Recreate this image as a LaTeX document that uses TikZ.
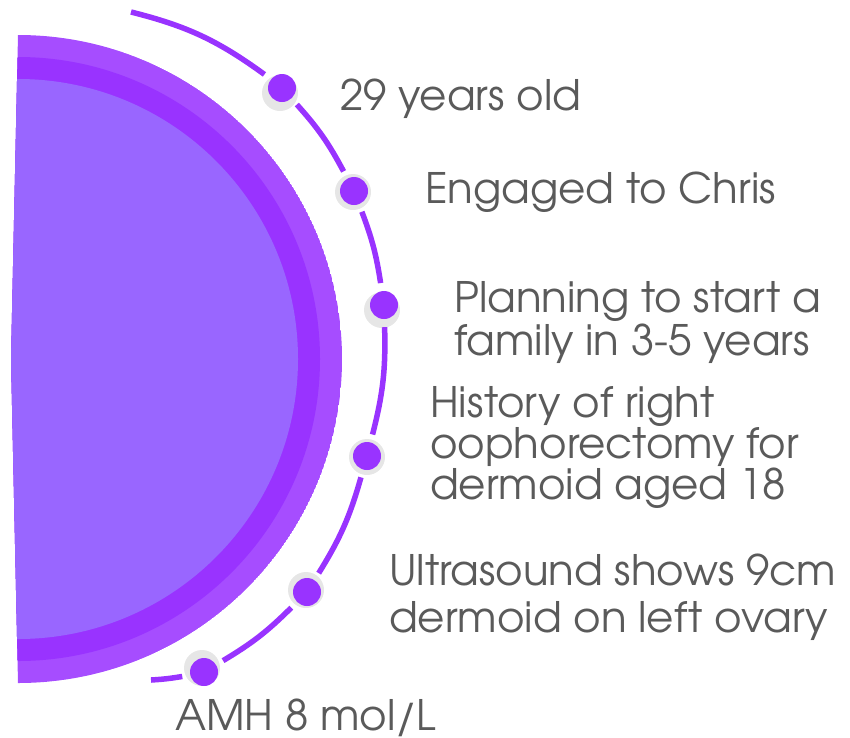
\documentclass[tikz,border=0pt]{standalone}
\usepackage{fontspec}
\setmainfont{texgyreadventor}[Extension=.otf, UprightFont=*-regular, BoldFont=*-bold]
\usepackage{tikz}
\usetikzlibrary{positioning}
\usepackage{xcolor}
\definecolor{ring}{HTML}{A64DFF}
\definecolor{band}{HTML}{9933FF}
\definecolor{core}{HTML}{9966FF}
\definecolor{shade}{HTML}{E6E6E6}
\definecolor{note}{HTML}{5A5A5A}

\begin{document}
\begin{tikzpicture}[x=1pt, y=-1pt,
  halo/.style={circle, minimum size=44pt, inner sep=0pt},
  shadow/.style={circle, fill=shade, minimum size=36pt, inner sep=0pt},
  dot/.style={circle, fill=band, minimum size=28pt, inner sep=0pt},
  track/.style={draw=band, line width=5.5pt},
  fact/.style={anchor=base west, align=left, inner sep=0pt, text=note, font=\fontsize{42}{43}\selectfont}
]
  \useasboundingbox (0,0) rectangle (850,737);

  % Half disc
  \begin{scope}
    \clip (18,35) arc[start angle=-90, end angle=90, radius=324] -- (11,359) -- cycle;
    \fill[ring] (18,359) circle[radius=324];
    \fill[band] (18,359) circle[radius=302];
    \fill[core] (18,359) circle[radius=280];
  \end{scope}

  % Dots
  \node[halo] (h1) at (282,88) {};
  \node[shadow] (s1) at (280,93) {};
  \node[dot] (d1) at (282,88) {};
  \node[halo] (h2) at (354,191) {};
  \node[shadow] (s2) at (353,192) {};
  \node[dot] (d2) at (354,191) {};
  \node[halo] (h3) at (384,305) {};
  \node[shadow] (s3) at (382,310) {};
  \node[dot] (d3) at (384,305) {};
  \node[halo] (h4) at (367,456) {};
  \node[shadow] (s4) at (367,457) {};
  \node[dot] (d4) at (367,456) {};
  \node[halo] (h5) at (307,592) {};
  \node[shadow] (s5) at (306,590) {};
  \node[dot] (d5) at (307,592) {};
  \node[halo] (h6) at (204,672) {};
  \node[shadow] (s6) at (202,668) {};
  \node[dot] (d6) at (204,672) {};
  \coordinate (start) at (131,12);
  \coordinate (stop) at (151,680);

  % Timeline
  \draw[track] (start) to[bend left=11] (h1);
  \draw[track] (h1) to[bend left=7] (h2);
  \draw[track] (h2) to[bend left=6] (h3);
  \draw[track] (h3) to[bend left=8] (h4);
  \draw[track] (h4) to[bend left=8] (h5);
  \draw[track] (h5) to[bend left=7] (h6);
  \draw[track] (h6) to[bend left=3] (stop);

  % Facts
  \node[fact] (age) at (340,110) {29 years old};
  \node[fact] (engaged) at (425,203) {Engaged to Chris};
  \node[fact] (family) at (454,355) {Planning to start a\\family in 3-5 years};
  \node[fact, font=\fontsize{42}{33.5}\selectfont] (history) at (430,499) {History of right\\oophorectomy for\\dermoid aged 18};
  \node[fact, font=\fontsize{42}{47}\selectfont] (scan) at (389,632) {Ultrasound shows 9cm\\dermoid on left ovary};
  \node[fact] (amh) at (175,730) {AMH 8 mol/L};
\end{tikzpicture}
\end{document}
